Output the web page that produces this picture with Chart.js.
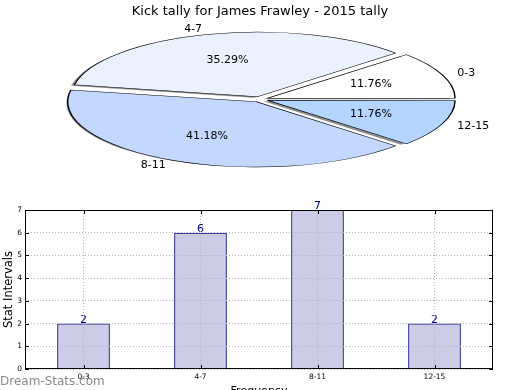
<!DOCTYPE html>
<html lang="en">
<head>
    <meta charset="UTF-8">
    <title>Kick tally for James Frawley - 2015 tally</title>
    <script src="https://cdn.jsdelivr.net/npm/chart.js"></script>
    <style>
        body { margin: 0; width: 520px; height: 390px; overflow: hidden; background: #fff; position: relative; font-family: "DejaVu Sans", sans-serif; }
        #pieBox { position: absolute; left: 0; top: 0; width: 520px; height: 200px; }
        #barBox { position: absolute; left: 0; top: 200px; width: 520px; height: 198px; }
        #mark { position: absolute; left: 0; top: 374px; font: 12px "DejaVu Sans", sans-serif; color: #8a8a8a; }
    </style>
</head>
<body>
<div id="pieBox"><canvas id="pieChart"></canvas></div>
<div id="barBox"><canvas id="barChart"></canvas></div>
<div id="mark">Dream-Stats.com</div>

<script>
    const categories = ['0-3', '4-7', '8-11', '12-15'];
    const tally = [2, 6, 7, 2];
    const sliceColors = ['#ffffff', '#eaf1ff', '#c3d7ff', '#b3d5ff'];
    const yTicks = [0, 1, 2, 3, 4, 5, 6, 7];

    // squash factor for the "flat" pie
    const squash = 64 / 185;

    // matplotlib goes counter-clockwise from 3 o'clock, chart.js goes clockwise
    const pieLabels = categories.slice().reverse();
    const pieData = tally.slice().reverse();
    const pieColors = sliceColors.slice().reverse();

    // chart.js moves an arc by offset / 4
    const shift = a => (a.options.offset || 0) / 4;

    const flatPie = {
        id: 'flatPie',
        beforeDatasetsDraw(chart) {
            const ctx = chart.ctx;
            const arcs = chart.getDatasetMeta(0).data;
            const cx = arcs[0].x, cy = arcs[0].y;
            ctx.save();
            ctx.translate(cx, cy);
            ctx.scale(1, squash);
            ctx.translate(-cx, -cy);
            // shadow pass
            ctx.save();
            ctx.translate(-4, 3);
            ctx.fillStyle = 'rgba(0,0,0,0.45)';
            arcs.forEach(a => {
                const off = shift(a);
                const mid = (a.startAngle + a.endAngle) / 2;
                const ox = Math.cos(mid) * off, oy = Math.sin(mid) * off;
                ctx.beginPath();
                ctx.moveTo(a.x + ox, a.y + oy);
                ctx.arc(a.x + ox, a.y + oy, a.outerRadius + 1, a.startAngle, a.endAngle);
                ctx.closePath();
                ctx.fill();
            });
            ctx.restore();
        },
        afterDatasetsDraw(chart) {
            const ctx = chart.ctx;
            ctx.restore();
            const meta = chart.getDatasetMeta(0);
            const total = pieData.reduce((s, v) => s + v, 0);
            ctx.save();
            ctx.fillStyle = '#000';
            ctx.font = '11px "DejaVu Sans"';
            ctx.textBaseline = 'middle';
            meta.data.forEach((a, i) => {
                const mid = (a.startAngle + a.endAngle) / 2;
                const off = shift(a);
                const r = a.outerRadius;
                const c = Math.cos(mid), s = Math.sin(mid);
                const lx = a.x + c * (r * 1.1 + off);
                const ly = a.y + s * (r * 1.1 + off) * squash;
                ctx.textAlign = c >= 0 ? 'left' : 'right';
                ctx.fillText(pieLabels[i], lx, ly);
                const px = a.x + c * (r * 0.6 + off);
                const py = a.y + s * (r * 0.6 + off) * squash;
                ctx.textAlign = 'center';
                ctx.fillText((pieData[i] / total * 100).toFixed(2) + '%', px, py);
            });
            ctx.restore();
        }
    };

    new Chart(document.getElementById('pieChart'), {
        type: 'pie',
        data: {
            labels: pieLabels,
            datasets: [{
                data: pieData,
                backgroundColor: pieColors,
                borderColor: '#000000',
                borderWidth: 1.4,
                offset: 32
            }]
        },
        options: {
            responsive: true,
            maintainAspectRatio: false,
            animation: false,
            events: [],
            rotation: 90,
            radius: 185,
            layout: { padding: { left: 1, right: 1, top: 0, bottom: 21 } },
            plugins: {
                legend: { display: false },
                tooltip: { enabled: false },
                title: {
                    display: true,
                    text: 'Kick tally for James Frawley - 2015 tally',
                    color: '#000',
                    font: { family: 'DejaVu Sans', size: 13, weight: 'normal' },
                    padding: { top: 4, bottom: 0 }
                }
            }
        },
        plugins: [flatPie]
    });

    const barExtras = {
        id: 'barExtras',
        afterDatasetsDraw(chart) {
            const ctx = chart.ctx;
            ctx.save();
            ctx.fillStyle = '#000080';
            ctx.font = '11px "DejaVu Sans"';
            ctx.textAlign = 'center';
            ctx.textBaseline = 'bottom';
            chart.getDatasetMeta(0).data.forEach((bar, i) => {
                ctx.fillText(String(tally[i]), bar.x, bar.y + 2);
            });
            ctx.restore();
        },
        afterDraw(chart) {
            const a = chart.chartArea;
            const ctx = chart.ctx;
            ctx.save();
            ctx.strokeStyle = '#000';
            ctx.lineWidth = 1;
            ctx.strokeRect(a.left + 0.5, a.top + 0.5, a.right - a.left - 1, a.bottom - a.top - 1);
            // small inward tick marks like the original
            const y = chart.scales.y;
            yTicks.forEach(v => {
                const py = Math.round(y.getPixelForValue(v)) + 0.5;
                ctx.beginPath();
                ctx.moveTo(a.left, py); ctx.lineTo(a.left + 4, py);
                ctx.moveTo(a.right, py); ctx.lineTo(a.right - 4, py);
                ctx.stroke();
            });
            const x = chart.scales.x;
            categories.forEach((c, i) => {
                const px = Math.round(x.getPixelForValue(i)) + 0.5;
                ctx.beginPath();
                ctx.moveTo(px, a.bottom); ctx.lineTo(px, a.bottom - 4);
                ctx.moveTo(px, a.top); ctx.lineTo(px, a.top + 4);
                ctx.stroke();
            });
            ctx.restore();
        }
    };

    new Chart(document.getElementById('barChart'), {
        type: 'bar',
        data: {
            labels: categories,
            datasets: [{
                data: tally,
                backgroundColor: 'rgba(0,0,128,0.2)',
                borderColor: '#000080',
                borderWidth: 1,
                barPercentage: 0.45,
                categoryPercentage: 1
            }]
        },
        options: {
            responsive: true,
            maintainAspectRatio: false,
            animation: false,
            events: [],
            layout: { padding: { left: 0, right: 27, top: 10, bottom: 0 } },
            plugins: { legend: { display: false }, tooltip: { enabled: false } },
            scales: {
                x: {
                    offset: true,
                    grid: { offset: false, z: 1, color: '#b4b4b4', drawTicks: false },
                    border: { display: false, dash: [1, 2] },
                    ticks: { color: '#000', font: { family: 'DejaVu Sans', size: 7.5 }, padding: 4, maxRotation: 0 },
                    title: { display: true, text: 'Frequency', color: '#000', font: { family: 'DejaVu Sans', size: 11 }, padding: 0 },
                    afterFit(scale) { scale.height = 29; }
                },
                y: {
                    min: 0,
                    max: 7,
                    afterBuildTicks(scale) { scale.ticks = yTicks.map(v => ({ value: v })); },
                    grid: { z: 1, color: '#b4b4b4', drawTicks: false },
                    border: { display: false, dash: [1, 2] },
                    ticks: { color: '#000', font: { family: 'DejaVu Sans', size: 7.5 }, padding: 3 },
                    title: { display: true, text: 'Stat Intervals', color: '#000', font: { family: 'DejaVu Sans', size: 11.5 }, padding: { top: 2, bottom: 0 } },
                    afterFit(scale) { scale.width = 25; }
                }
            }
        },
        plugins: [barExtras]
    });
</script>
</body>
</html>
